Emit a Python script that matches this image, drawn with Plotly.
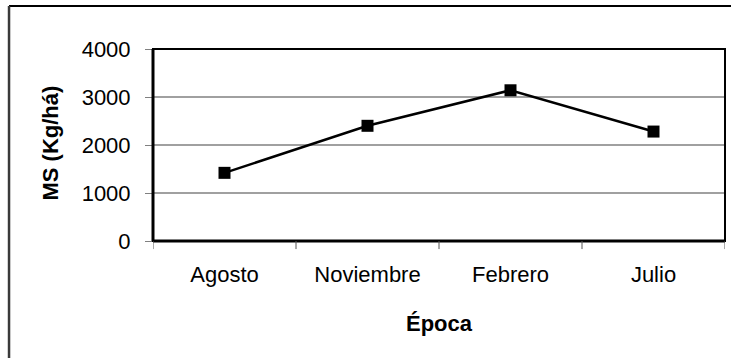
import plotly.graph_objects as go

# Dry matter yield per sampling period
epocas = ["Agosto", "Noviembre", "Febrero", "Julio"]
ms_kg_ha = [1420, 2400, 3140, 2280]
y_ticks = [0, 1000, 2000, 3000, 4000]

FONT = "Liberation Sans, Arial, sans-serif"
FS = 22

fig = go.Figure()
fig.add_trace(go.Scatter(
    x=[0.5, 1.5, 2.5, 3.5],
    y=ms_kg_ha,
    mode="lines+markers",
    line=dict(color="black", width=2.5),
    marker=dict(symbol="square", size=12, color="black"),
    showlegend=False,
    cliponaxis=False,
))

# Horizontal gridlines at the inner tick values
for v in y_ticks[1:-1]:
    fig.add_shape(type="line", xref="paper", yref="y", x0=0, x1=1, y0=v, y1=v,
                  line=dict(color="#808080", width=1.5), layer="below")

# Plot frame: heavier left/bottom axes, lighter top/right edges
fig.add_shape(type="rect", xref="paper", yref="paper", x0=0, x1=1, y0=0, y1=1,
              line=dict(color="black", width=2))
fig.add_shape(type="line", xref="paper", yref="paper", x0=0, x1=0, y0=0, y1=1,
              line=dict(color="black", width=3))
fig.add_shape(type="line", xref="paper", yref="paper", x0=0, x1=1, y0=0, y1=0,
              line=dict(color="black", width=3))

# Outer chart border (top and left edges)
fig.add_shape(type="line", xref="paper", yref="paper", x0=-0.2517, x1=1.02, y0=1.2245, y1=1.2245,
              line=dict(color="black", width=2))
fig.add_shape(type="line", xref="paper", yref="paper", x0=-0.2517, x1=-0.2517, y0=1.2245, y1=-0.7,
              line=dict(color="#3a3a3a", width=2.5))

# Category separator ticks below the x axis
for i in range(5):
    fig.add_shape(type="line", xref="x", yref="paper", x0=i, x1=i, y0=0, y1=-0.042,
                  line=dict(color="#555555", width=1))

# Axis titles
fig.add_annotation(text="<b>Época</b>", xref="paper", yref="paper", x=0.5, y=-0.43,
                   xanchor="center", yanchor="middle", showarrow=False,
                   font=dict(family=FONT, size=FS, color="black"))
fig.add_annotation(text="<b>MS (Kg/há)</b>", xref="paper", yref="paper", x=-0.18, y=0.508,
                   xanchor="center", yanchor="middle", showarrow=False, textangle=-90,
                   font=dict(family=FONT, size=FS, color="black"))

fig.update_layout(
    width=731, height=358,
    margin=dict(l=153, r=6, t=49, b=117),
    paper_bgcolor="white", plot_bgcolor="white",
    font=dict(family=FONT, color="black", size=FS),
    xaxis=dict(
        range=[0, 4],
        tickmode="array",
        tickvals=[0.5, 1.5, 2.5, 3.5],
        ticktext=epocas,
        showgrid=False, zeroline=False, showline=False,
        ticks="", tickfont=dict(size=FS),
        ticklabelstandoff=18,
        fixedrange=True,
    ),
    yaxis=dict(
        range=[0, 4000],
        tickmode="array",
        tickvals=y_ticks,
        showgrid=False, zeroline=False, showline=False,
        ticks="outside", ticklen=7, tickcolor="#808080", tickwidth=1,
        tickfont=dict(size=FS),
        ticklabelstandoff=10,
        fixedrange=True,
    ),
)

fig.write_html("out.html")
